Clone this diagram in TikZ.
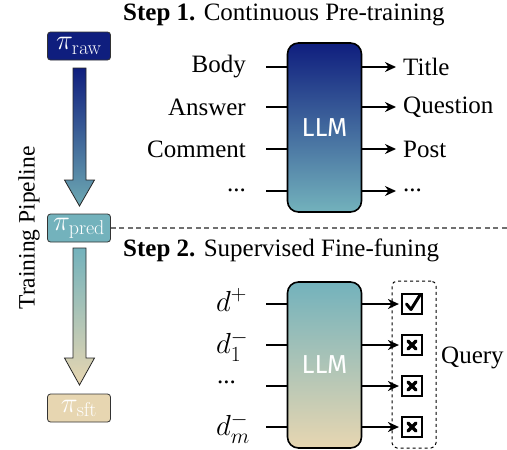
\RequirePackage{fix-cm}
\documentclass[tikz,border=0pt]{standalone}
\usepackage[no-math]{fontspec}
\setmainfont{Liberation Serif}
\newfontfamily\llmfont{Fira Sans}
\usetikzlibrary{arrows.meta}
\DeclareMathSizes{29}{29}{21.5}{16}
\DeclareMathSizes{28.5}{28.5}{20}{15}
\definecolor{navy}{HTML}{0F1E7E}
\definecolor{tealc}{HTML}{73B2BC}
\definecolor{beige}{HTML}{E7D6B1}
\definecolor{sepgray}{HTML}{707070}
\tikzset{
  pibox/.style={draw=black!80, line width=0.8pt, rounded corners=3pt, minimum width=63pt, minimum height=28pt, inner sep=0pt, text=white, font=\fontsize{28.5}{32}\selectfont},
  llmbox/.style={draw=black, line width=1.6pt, rounded corners=11pt, minimum width=74pt, inner sep=0pt, text=white, font=\llmfont\fontsize{26}{30}\selectfont},
  gradarrow/.style={draw=black!85, line width=0.8pt},
  lbl/.style={inner sep=0pt},
  mlbl/.style={inner sep=0pt, font=\fontsize{29}{33}\selectfont},
  conn/.style={line width=1.6pt},
  connarr/.style={line width=1.6pt, -{Stealth[length=11pt,width=10pt]}},
  cbox/.style={draw=black, line width=2.2pt, minimum size=20pt, inner sep=0pt},
  checkmark/.style={cbox, path picture={\draw[line width=3pt, line cap=round, line join=round] ([xshift=-5.5pt,yshift=0pt]path picture bounding box.center) -- ([xshift=-1pt,yshift=-5.5pt]path picture bounding box.center) -- ([xshift=8pt,yshift=9pt]path picture bounding box.center);}},
  crossmark/.style={cbox, path picture={\draw[line width=3.4pt, line cap=round] ([xshift=-4pt,yshift=-4pt]path picture bounding box.center) -- ([xshift=4pt,yshift=4pt]path picture bounding box.center) ([xshift=-4pt,yshift=4pt]path picture bounding box.center) -- ([xshift=4pt,yshift=-4pt]path picture bounding box.center);}},
}
\begin{document}
\begin{tikzpicture}[x=1pt,y=-1pt,font=\fontsize{25}{30}\selectfont]
\useasboundingbox (0,0) rectangle (507,450);

% pipeline
\node[pibox, fill=navy] (raw) at (79,46) {$\pi_{\mathrm{raw}}$};
\node[pibox, fill=tealc] (pred) at (79,228) {$\pi_{\mathrm{pred}}$};
\node[pibox, fill=beige] (sft) at (79,408) {$\pi_{\mathrm{sft}}$};
\node[rotate=90, lbl, font=\fontsize{23.5}{28}\selectfont] (tp) at (29,228) {Training Pipeline};

\shadedraw[gradarrow, top color=navy, bottom color=tealc!95!black]
  (73,68) -- (86,68) -- (86,180) -- (94.5,180) -- (79.5,206) -- (64.5,180) -- (73,180) -- cycle;
\shadedraw[gradarrow, top color=tealc, bottom color=beige]
  (73,248) -- (86,248) -- (86,358) -- (94.5,358) -- (79.5,385) -- (64.5,358) -- (73,358) -- cycle;

% separator
\coordinate (sepend) at (507,228);
\draw[sepgray, line width=1.2pt, dash pattern=on 5pt off 3.5pt] (pred.east) -- (sepend);

% Step 1
\node[lbl, anchor=west] (t1) at (123,15) {\textbf{Step 1.} Continuous Pre-training};
\node[llmbox, minimum height=169pt, top color=navy, bottom color=tealc] (llm1) at (324.5,127.5) {LLM};

\node[lbl, anchor=east] (i1) at (246,67) {Body};
\node[lbl, anchor=east] (i2) at (246,107) {Answer};
\node[lbl, anchor=east] (i3) at (246,149) {Comment};
\node[lbl, anchor=east] (i4) at (246,190) {...};
\node[lbl, anchor=west] (o1) at (403,67) {Title};
\node[lbl, anchor=west] (o2) at (403,107) {Question};
\node[lbl, anchor=west] (o3) at (403,149) {Post};
\node[lbl, anchor=west] (o4) at (403,190) {...};
\foreach \n/\y in {1/67,2/107,3/149,4/191}{
  \coordinate (a\n) at (266,\y);
  \coordinate (b\n) at (396,\y);
  \draw[conn] (a\n) -- (llm1.west |- a\n);
  \draw[connarr] (llm1.east |- a\n) -- (b\n);
}

% Step 2
\node[lbl, anchor=west] (t2) at (123,250) {\textbf{Step 2.} Supervised Fine-funing};
\node[llmbox, minimum height=166pt, top color=tealc, bottom color=beige] (llm2) at (324.5,365) {LLM};

\node[mlbl, anchor=west] (d1) at (216,300) {$d^{+}$};
\node[mlbl, anchor=west] (d2) at (216,346) {$d^{-}_{1}$};
\node[lbl, anchor=west] (d3) at (217,382) {...};
\node[mlbl, anchor=west] (d4) at (216,428) {$d^{-}_{m}$};

\node[draw=black, line width=1pt, dashed, rounded corners=5pt, minimum width=44pt, minimum height=167pt] (qbox) at (414,364.5) {};
\node[checkmark] (c1) at (412,304) {};
\node[crossmark] (c2) at (412,345) {};
\node[crossmark] (c3) at (412,386) {};
\node[crossmark] (c4) at (412,427) {};
\node[lbl, anchor=west] (q) at (441,358) {Query};

\coordinate (s2in) at (266,0);
\foreach \c in {c1,c2,c3,c4}{
  \draw[conn] (s2in |- \c) -- (llm2.west |- \c);
  \draw[connarr] (llm2.east |- \c) -- ([xshift=-2pt]\c.west);
}
\end{tikzpicture}
\end{document}
